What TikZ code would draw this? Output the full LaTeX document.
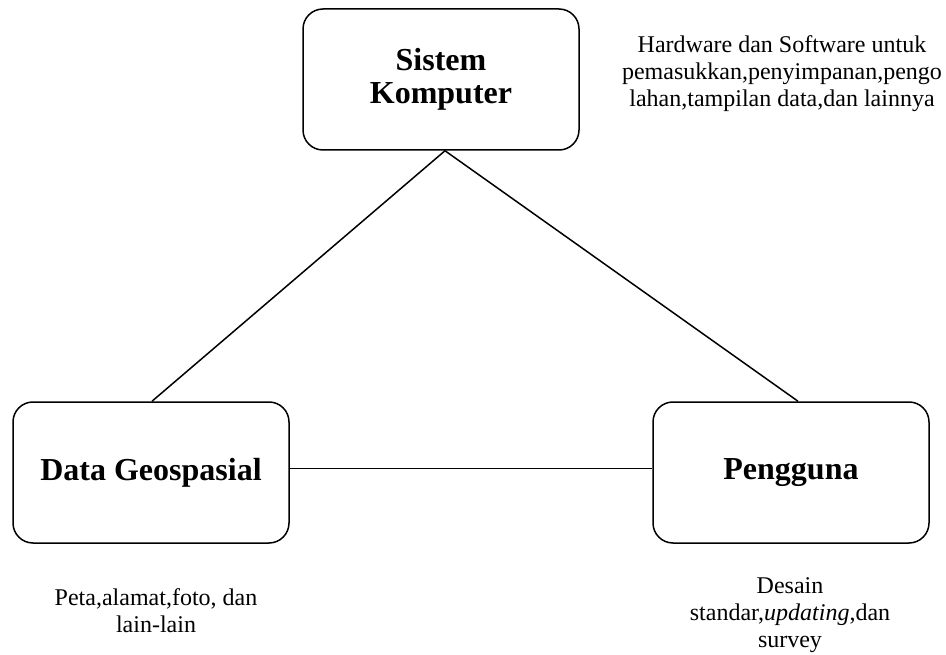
\documentclass[tikz,border=0pt]{standalone}
\usepackage{fontspec}
\setmainfont{Liberation Serif}
\tikzset{%
  komponen/.style = {shape=rectangle, rounded corners=20pt,%
                     draw, line width=1.5pt, align=center,%
                     minimum width=276pt, minimum height=141pt,%
                     font=\fontsize{32}{33}\selectfont\bfseries},%
  ket/.style      = {align=center, font=\fontsize{24}{27}\selectfont},%
  garis/.style    = {line width=1.5pt}%
}
\begin{document}
\begin{tikzpicture}[x=1pt,y=-1pt]
	\useasboundingbox (0,0) rectangle (946,655);
	% komponen SIG
	\node [komponen] (sk) at (441,79.5) {Sistem\\Komputer};
	\node [komponen] (dg) at (151,472.5) {Data Geospasial};
	\node [komponen] (pg) at (791,472.5) {Pengguna};
	% keterangan
	\node [ket] (ksk) at (782,74) {Hardware dan Software untuk\\pemasukkan,penyimpanan,pengo\\lahan,tampilan data,dan lainnya};
	\node [ket] (kdg) at (156,611) {Peta,alamat,foto, dan\\lain-lain};
	\node [ket] (kpg) at (790,615) {Desain\\standar,\textit{updating},dan\\survey};
	% hubungan
	\draw [garis] ([xshift=4pt]sk.south) -- ([xshift=1pt]dg.north);
	\draw [garis] ([xshift=4pt]sk.south) -- ([xshift=7pt]pg.north);
	\draw [garis] ([yshift=4pt]dg.east) -- ([yshift=4pt]pg.west);
\end{tikzpicture}
\end{document}
